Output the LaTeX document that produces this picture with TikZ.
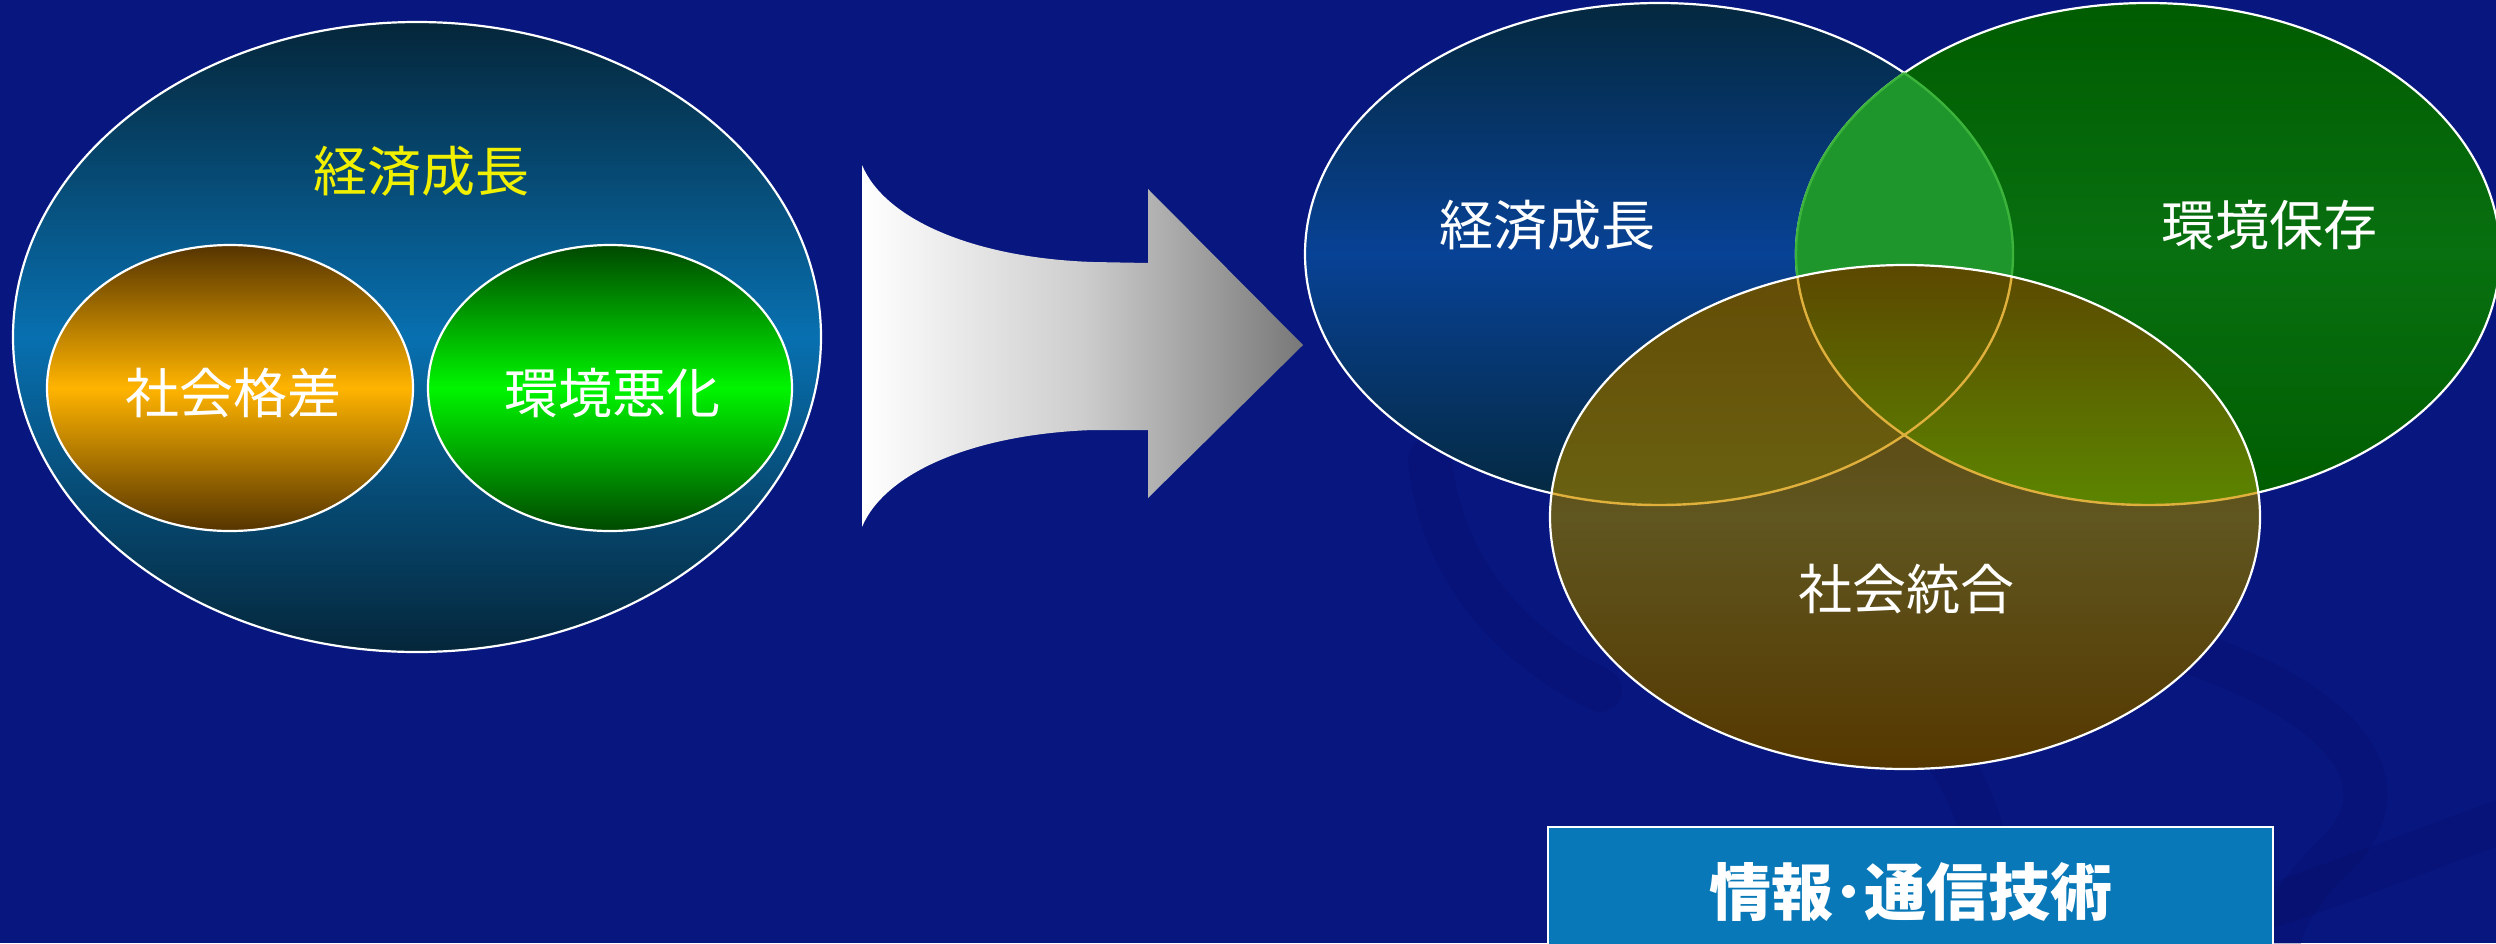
\documentclass[tikz,border=0pt]{standalone}
\usepackage{fontspec}
\newfontfamily\jp{Noto Sans CJK JP}
\definecolor{bg}{RGB}{8,22,128}
\definecolor{band}{RGB}{5,15,102}
\definecolor{lbTop}{RGB}{5,38,58}
\definecolor{lbMid}{RGB}{8,112,176}
\definecolor{orTop}{RGB}{85,52,0}
\definecolor{orMid}{RGB}{255,180,0}
\definecolor{grTop}{RGB}{0,72,0}
\definecolor{grMid}{RGB}{0,245,0}
\definecolor{yel}{RGB}{240,240,0}
\definecolor{bTop}{RGB}{4,40,62}
\definecolor{bMid}{RGB}{8,66,150}
\definecolor{gTop}{RGB}{0,92,0}
\definecolor{gMid}{RGB}{8,112,16}
\definecolor{bgInter}{RGB}{30,150,44}
\definecolor{bgLine}{RGB}{60,180,60}
\definecolor{brTop}{RGB}{88,58,0}
\definecolor{brMid}{RGB}{96,86,32}
\definecolor{brBot}{RGB}{85,56,0}
\definecolor{brbTop}{RGB}{100,76,6}
\definecolor{brbMid}{RGB}{106,98,18}
\definecolor{brgTop}{RGB}{92,72,0}
\definecolor{brgMid}{RGB}{92,136,0}
\definecolor{gold}{RGB}{224,176,60}
\definecolor{arMid}{RGB}{205,205,205}
\definecolor{arEnd}{RGB}{120,120,120}
\definecolor{boxfill}{RGB}{8,120,184}
\begin{document}
\begin{tikzpicture}[x=1pt,y=-1pt,
  lbl/.style={font=\jp\fontsize{54}{60}\selectfont, text=white, inner sep=0pt},
  boxlbl/.style={font=\jp\bfseries\fontsize{62}{68}\selectfont, text=white, inner sep=0pt},
  edge/.style={draw=white, line width=2.2pt},
  swoosh/.style={draw=band, line width=44pt, line cap=round, opacity=0.3}]
\useasboundingbox (0,0) rectangle (2496,943);
\fill[bg] (0,0) rectangle (2496,943);
\begin{scope}
\clip (0,0) rectangle (2496,943);
% background ribbon
\draw[swoosh] (1430,460) .. controls (1440,560) and (1500,640) .. (1600,690);
\draw[swoosh] (1900,700) .. controls (1960,760) and (1990,820) .. (1990,900);
\draw[swoosh] (2150,640) .. controls (2330,690) and (2420,780) .. (2330,860) .. controls (2300,890) and (2280,920) .. (2275,960);
\draw[swoosh] (2273,905) .. controls (2350,880) and (2420,850) .. (2520,815);

% left group
\shadedraw[edge, top color=lbTop, bottom color=lbTop, middle color=lbMid] (417,337) ellipse [x radius=404, y radius=315];
\shadedraw[edge, top color=orTop, bottom color=orTop, middle color=orMid] (230,388) ellipse [x radius=183, y radius=143];
\shadedraw[edge, top color=grTop, bottom color=grTop, middle color=grMid] (610,388) ellipse [x radius=182, y radius=143];
\node[lbl, text=yel] (econL) at (421,171) {経済成長};
\node[lbl] (gapL) at (233,393) {社会格差};
\node[lbl] (envL) at (612,393) {環境悪化};

% arrow
\shade[left color=white, right color=arEnd, middle color=arMid]
  (862,165) .. controls (885,220) and (975,258) .. (1093,262) -- (1148,263) -- (1148,189)
  -- (1303,345) -- (1148,498) -- (1148,430) -- (1093,430)
  .. controls (975,434) and (885,472) .. (862,527) -- cycle;

% right Venn: blue and green
\shade[top color=bTop, bottom color=bTop, middle color=bMid] (1659,254) ellipse [x radius=354, y radius=251];
\draw[edge] (1659,254) ellipse [x radius=354, y radius=251];
\shade[top color=gTop, bottom color=gTop, middle color=gMid] (2148,254) ellipse [x radius=352, y radius=251];
\draw[edge] (2148,254) ellipse [x radius=352, y radius=251];
\begin{scope}
  \clip (1659,254) ellipse [x radius=354, y radius=251];
  \fill[bgInter] (2148,254) ellipse [x radius=352, y radius=251];
  \draw[bgLine, line width=2.4pt] (2148,254) ellipse [x radius=352, y radius=251];
\end{scope}
\begin{scope}
  \clip (2148,254) ellipse [x radius=352, y radius=251];
  \draw[bgLine, line width=2.4pt] (1659,254) ellipse [x radius=354, y radius=251];
\end{scope}
% brown
\shade[top color=brTop, bottom color=brBot, middle color=brMid] (1905,517) ellipse [x radius=355, y radius=252];
\begin{scope}
  \clip (1659,254) ellipse [x radius=354, y radius=251];
  \shade[top color=brbTop, bottom color=brBot, middle color=brbMid] (1905,517) ellipse [x radius=355, y radius=252];
\end{scope}
\begin{scope}
  \clip (2148,254) ellipse [x radius=352, y radius=251];
  \shade[top color=brgTop, bottom color=brBot, middle color=brgMid] (1905,517) ellipse [x radius=355, y radius=252];
\end{scope}
\begin{scope}
  \clip (1905,517) ellipse [x radius=355, y radius=252];
  \draw[gold, line width=2.4pt] (1659,254) ellipse [x radius=354, y radius=251];
  \draw[gold, line width=2.4pt] (2148,254) ellipse [x radius=352, y radius=251];
\end{scope}
\draw[edge] (1905,517) ellipse [x radius=355, y radius=252];
\node[lbl] (econR) at (1547,225) {経済成長};
\node[lbl] (envR) at (2269,225) {環境保存};
\node[lbl] (socR) at (1906,589) {社会統合};

% ICT box
\draw[edge, fill=boxfill] (1548,827) rectangle (2273,980);
\node[boxlbl] (ict) at (1911,892) {情報･通信技術};
\end{scope}
\end{tikzpicture}
\end{document}
